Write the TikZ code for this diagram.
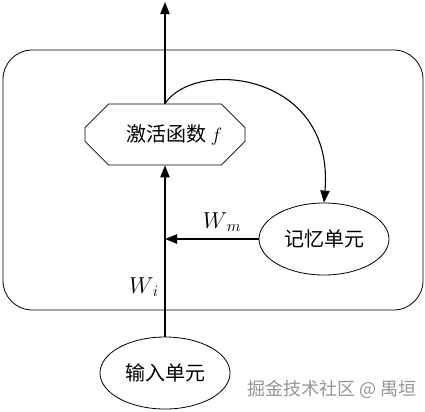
\documentclass[tikz,border=0pt]{standalone}
\usepackage{fontspec}
\usepackage{amsmath}
\newfontfamily\cjk{Noto Sans CJK SC}
\usetikzlibrary{arrows.meta,shapes.geometric,shapes.misc}
\definecolor{wm}{RGB}{150,150,150}

\begin{document}
\begin{tikzpicture}[x=0.75pt,y=-0.75pt,
  unit/.style={draw,line width=.6pt,ellipse,minimum width=97.5pt,minimum height=54pt,inner sep=0pt,font=\cjk\fontsize{15}{18}\selectfont},
  arr/.style={line width=.8pt,-{Triangle[length=9pt,width=7pt]}}]
\useasboundingbox (0,0) rectangle (425,411);
%% outer frame
\draw[line width=.6pt,rounded corners=22pt] (3,50) rectangle (423,310);
%% activation block
\node[draw,line width=.6pt,chamfered rectangle,chamfered rectangle xsep=12pt,chamfered rectangle ysep=10pt,
  minimum width=120pt,minimum height=45.75pt,inner sep=0pt,font=\cjk\fontsize{15}{18}\selectfont]
  (act) at (165,134.5) {\hspace{14pt}激活函数 $f$};
\node[unit] (mem) at (324,239) {记忆单元};
\node[unit] (inp) at (165,373) {输入单元};
\coordinate (out) at (165,2);
\coordinate (join) at (165,239);
%% connectors
\draw[arr] (act.north) -- (out);
\draw[arr] (act.north) .. controls (195,58) and (335,72) .. (mem.north);
\draw[arr] (inp.north) -- (act.south);
\draw[arr] (mem.west) -- (join);
%% weights
\node[font=\fontsize{17}{20}\selectfont] (wm) at (222,222) {$W_{\,m}$};
\node[font=\fontsize{17}{20}\selectfont] (wi) at (144,287) {$W_{\,i}$};
\node[wm,font=\cjk\fontsize{13.5}{16}\selectfont] (mark) at (332,389) {掘金技术社区 @ 禺垣};
\end{tikzpicture}
\end{document}
